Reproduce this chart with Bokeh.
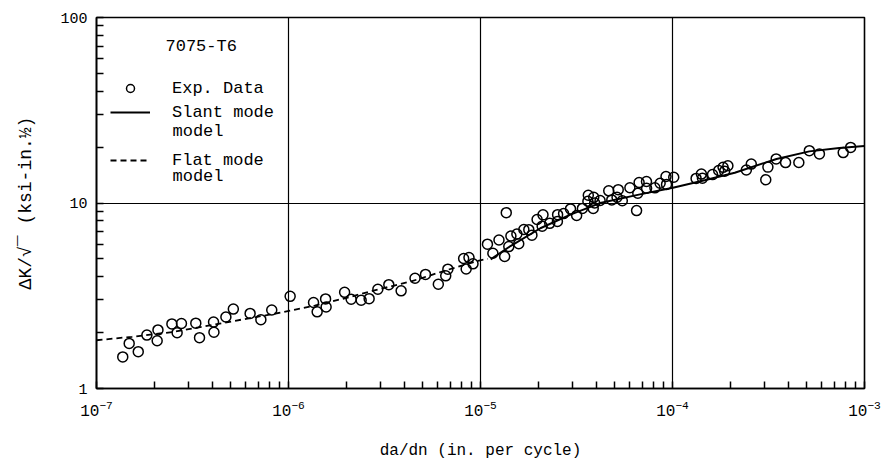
import numpy as np
from bokeh.plotting import figure
from bokeh.models import Range1d, LogTicker, LogTickFormatter, Legend, LegendItem, Label
from bokeh.embed import file_html
from bokeh.resources import INLINE

# ---- data (da/dn in in/cycle, dK in ksi*sqrt(in)) ----
exp_dadn = [1.37e-7, 1.48e-7, 1.65e-7, 1.83e-7, 2.09e-7, 2.07e-7, 2.47e-7, 2.63e-7, 2.77e-7, 3.29e-7,
            3.44e-7, 4.07e-7, 4.09e-7, 4.72e-7, 5.16e-7, 6.31e-7, 7.18e-7, 8.18e-7, 1.02e-6, 1.35e-6,
            1.41e-6, 1.56e-6, 1.57e-6, 1.96e-6, 2.12e-6, 2.39e-6, 2.63e-6, 2.92e-6, 3.33e-6, 3.86e-6,
            4.56e-6, 5.17e-6, 6.03e-6, 6.59e-6, 6.76e-6, 8.17e-6, 8.71e-6, 8.42e-6, 9.14e-6, 1.087e-5,
            1.16e-5, 1.336e-5, 1.248e-5, 1.362e-5, 1.404e-5, 1.44e-5, 1.547e-5, 1.582e-5, 1.682e-5, 1.785e-5,
            1.853e-5, 1.971e-5, 2.095e-5, 2.116e-5, 2.294e-5, 2.521e-5, 2.515e-5, 2.709e-5, 2.943e-5, 3.168e-5,
            3.394e-5, 3.643e-5, 3.625e-5, 3.889e-5, 3.931e-5, 3.864e-5, 4.196e-5, 4.655e-5, 4.828e-5, 5.216e-5,
            5.142e-5, 5.477e-5, 6.0e-5, 6.5e-5, 6.596e-5, 6.7e-5, 7.32e-5, 7.33e-5, 8.095e-5, 8.62e-5,
            9.25e-5, 9.31e-5, 1.015e-4, 1.327e-4, 1.414e-4, 1.432e-4, 1.616e-4, 1.74e-4, 1.834e-4, 1.869e-4,
            1.943e-4, 2.424e-4, 2.572e-4, 3.14e-4, 3.06e-4, 3.467e-4, 3.88e-4, 4.55e-4, 5.16e-4, 5.825e-4,
            7.745e-4, 8.47e-4]
exp_dk = [1.48, 1.75, 1.58, 1.94, 2.07, 1.81, 2.23, 2.00, 2.24, 2.25,
          1.88, 2.28, 2.01, 2.43, 2.68, 2.54, 2.35, 2.65, 3.14, 2.91,
          2.59, 3.04, 2.75, 3.30, 3.03, 2.99, 3.05, 3.43, 3.63, 3.36,
          3.93, 4.12, 3.65, 4.05, 4.40, 5.02, 5.08, 4.41, 4.70, 6.00,
          5.36, 5.15, 6.32, 8.87, 5.82, 6.63, 6.81, 6.03, 7.20, 7.18,
          6.71, 8.15, 7.50, 8.63, 7.77, 8.65, 7.96, 8.77, 9.29, 8.56,
          9.35, 11.01, 10.22, 10.73, 10.00, 9.34, 10.31, 11.63, 10.39, 11.80,
          10.74, 10.29, 12.08, 9.10, 11.29, 12.88, 13.06, 12.01, 12.07, 12.77,
          13.89, 12.60, 13.77, 13.57, 14.32, 13.59, 14.23, 14.98, 15.57, 14.85,
          15.87, 15.06, 16.21, 15.61, 13.34, 17.28, 16.52, 16.54, 19.15, 18.39,
          18.70, 19.94]

flat_dadn = [1.0e-7, 1.53e-7, 2.53e-7, 3.54e-7, 6.22e-7, 9.22e-7, 1.37e-6, 2.01e-6, 2.80e-6,
             4.36e-6, 6.78e-6, 9.70e-6, 1.09e-5]
flat_dk = [1.82, 1.90, 2.02, 2.15, 2.39, 2.57, 2.80, 3.08, 3.38, 3.78, 4.37, 4.88, 5.00]

slant_dadn = [1.13e-5, 1.44e-5, 2.05e-5, 2.94e-5, 4.20e-5, 6.77e-5, 1.005e-4, 1.47e-4, 2.11e-4,
              3.48e-4, 5.16e-4, 7.39e-4, 1.0e-3]
slant_dk = [4.97, 5.88, 7.31, 8.65, 9.99, 11.13, 12.07, 13.26, 14.56, 17.28, 18.98, 19.82, 20.29]

x_ticks = [1e-7, 1e-6, 1e-5, 1e-4, 1e-3]   # labelled 10^-7 ... 10^-3 by the log formatter
y_ticks = [1.0, 10.0, 100.0]
y_tick_labels = ["1", "10", "100"]

material = "7075-T6"
x_title = "da/dn (in. per cycle)"
y_title = "ΔK/√‾ (ksi-in.½)"

FONT = "Liberation Mono"

p = figure(width=881, height=462, x_axis_type="log", y_axis_type="log",
           x_range=Range1d(x_ticks[0], x_ticks[-1]), y_range=Range1d(y_ticks[0], y_ticks[-1]),
           output_backend="svg", toolbar_location=None,
           min_border_left=96, min_border_right=17, min_border_top=17, min_border_bottom=74)
p.background_fill_color = "white"
p.border_fill_color = "white"
p.outline_line_color = "black"
p.outline_line_width = 1.6

p.xaxis[0].ticker = LogTicker(mantissas=[1], desired_num_ticks=len(x_ticks), num_minor_ticks=10)
p.xaxis[0].formatter = LogTickFormatter()
p.yaxis[0].ticker = LogTicker(mantissas=[1], desired_num_ticks=len(y_ticks), num_minor_ticks=10)
p.yaxis[0].major_label_overrides = {t: l for t, l in zip(y_ticks, y_tick_labels)}

for ax in (p.xaxis[0], p.yaxis[0]):
    ax.axis_line_color = "black"
    ax.axis_line_width = 1.6
    ax.major_tick_in = 0
    ax.major_tick_out = 0
    ax.minor_tick_in = 7
    ax.minor_tick_out = 0
    ax.minor_tick_line_color = "black"
    ax.minor_tick_line_width = 1.5
    ax.major_label_text_font = FONT
    ax.major_label_text_color = "black"
    ax.axis_label_text_font = FONT
    ax.axis_label_text_font_style = "normal"
    ax.axis_label_text_color = "black"

p.xaxis[0].major_label_text_font_size = "16px"
p.xaxis[0].major_label_standoff = 11
p.xaxis[0].axis_label = x_title
p.xaxis[0].axis_label_text_font_size = "16px"
p.xaxis[0].axis_label_standoff = 23
p.yaxis[0].major_label_text_font_size = "15px"
p.yaxis[0].major_label_standoff = 9
p.yaxis[0].axis_label = y_title
p.yaxis[0].axis_label_text_font_size = "18px"
p.yaxis[0].axis_label_standoff = 21

for g in (p.xgrid[0], p.ygrid[0]):
    g.grid_line_color = "black"
    g.grid_line_width = 1.2
    g.grid_line_alpha = 1.0

r_flat = p.line(flat_dadn, flat_dk, line_color="black", line_width=1.8, line_dash="6 4")
r_slant = p.line(slant_dadn, slant_dk, line_color="black", line_width=2)
r_exp = p.scatter(exp_dadn, exp_dk, marker="circle", size=10, fill_color=None,
                  line_color="black", line_width=1.5)

legend_style = dict(glyph_width=40, glyph_height=20, label_height=20, label_standoff=22,
                    spacing=4, padding=0, margin=0, border_line_alpha=0, background_fill_alpha=0,
                    label_text_font=FONT, label_text_font_size="17px", label_text_color="black")
leg_a = Legend(items=[LegendItem(label="Exp. Data", renderers=[r_exp]),
                      LegendItem(label="Slant mode", renderers=[r_slant])],
               location=(14, 266), **legend_style)
leg_b = Legend(items=[LegendItem(label="Flat mode", renderers=[r_flat])],
               location=(14, 218), **legend_style)
p.add_layout(leg_a)
p.add_layout(leg_b)

lab_style = dict(x_units="screen", y_units="screen", text_font=FONT, text_font_size="17px",
                 text_color="black", text_baseline="middle", text_align="left")
p.add_layout(Label(x=69, y=342, text=material, **lab_style))
p.add_layout(Label(x=76, y=257, text="model", **lab_style))
p.add_layout(Label(x=76, y=212, text="model", **lab_style))

open("out.html", "w").write(file_html(p, INLINE))
